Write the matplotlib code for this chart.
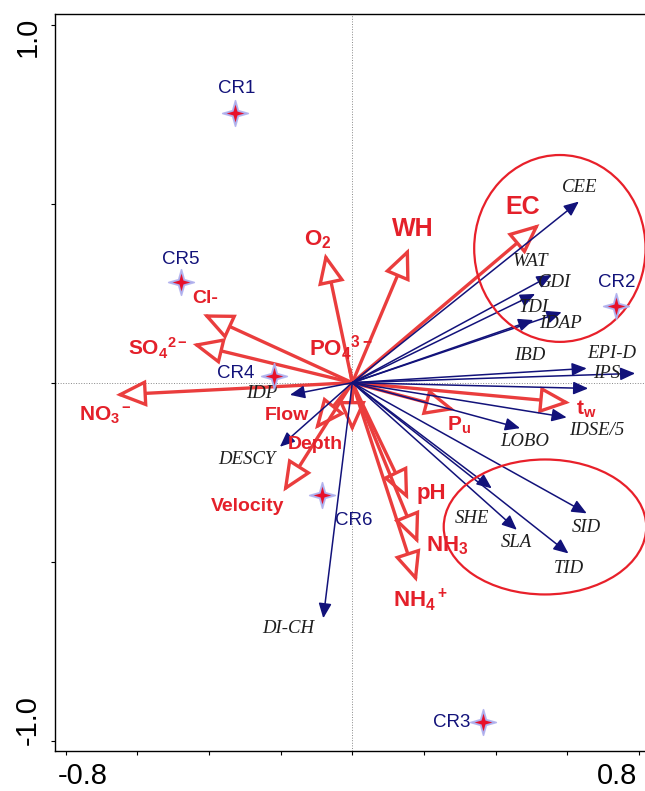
import numpy as np
import matplotlib
matplotlib.use('Agg')
import matplotlib.pyplot as plt
from matplotlib.patches import FancyArrowPatch, Ellipse
from matplotlib.path import Path

plt.rcParams['font.family'] = ['Liberation Sans', 'DejaVu Sans']
plt.rcParams['mathtext.fontset'] = 'custom'
plt.rcParams['mathtext.rm'] = 'Liberation Sans:bold'
plt.rcParams['mathtext.it'] = 'Liberation Sans:bold'
plt.rcParams['mathtext.bf'] = 'Liberation Sans:bold'

# environmental variables (red arrows)
env_names = ['EC', 'WH', 'O$_2$', 'Cl-', 'SO$_4$$^{2-}$', 'NO$_3$$^-$', 'PO$_4$$^{3-}$',
             'Flow', 'Depth', 'Velocity', 'pH', 'NH$_3$', 'NH$_4$$^+$', 'P$_u$', 't$_w$']
env_x = [0.522, 0.158, -0.076, -0.416, -0.445, -0.659, -0.006,
         -0.104, 0.000, -0.192, 0.156, 0.184, 0.180, 0.286, 0.607]
env_y = [0.443, 0.375, 0.361, 0.191, 0.108, -0.034, 0.035,
         -0.130, -0.137, -0.304, -0.326, -0.449, -0.556, -0.076, -0.056]

# species / indices (blue arrows)
sp_names = ['CEE', 'WAT', 'GDI', 'TDI', 'IDAP', 'IBD', 'EPI-D', 'IPS',
            'IDSE/5', 'LOBO', 'SHE', 'SLA', 'SID', 'TID', 'IDP', 'DESCY', 'DI-CH']
sp_x = [0.632, 0.556, 0.584, 0.510, 0.505, 0.654, 0.789, 0.658,
        0.598, 0.468, 0.389, 0.459, 0.654, 0.603, -0.174, -0.202, -0.081]
sp_y = [0.506, 0.301, 0.197, 0.248, 0.175, 0.040, 0.026, -0.016,
        -0.097, -0.127, -0.295, -0.411, -0.365, -0.477, -0.034, -0.179, -0.658]

# sampling sites
site_names = ['CR1', 'CR2', 'CR3', 'CR4', 'CR5', 'CR6']
site_x = [-0.327, 0.736, 0.364, -0.218, -0.479, -0.085]
site_y = [0.753, 0.215, -0.949, 0.020, 0.282, -0.314]

# label placement (pixels from arrow tip / marker)
env_off = [(-17, 17), (4, 19), (-7, 14), (2, 16), (-35, -4), (-11, -20), (-9, 22),
           (-28, 14), (-37, -13), (-36, -15), (23, 6), (29, -2), (4, -18), (4, -15), (16, -7)]
env_fs = [18, 18, 16, 14, 15, 15, 16, 14, 14, 14, 16, 16, 16, 15, 15]
sp_off = [(1, 14), (-21, 13), (-7, 30), (-1, -14), (27, -3), (-57, 13), (-23, 20), (18, 15),
          (30, -13), (5, -13), (-20, -30), (0, -13), (0, -14), (0, -15), (-28, 1), (-33, -13), (-35, -10)]
site_off = [(2, 25), (1, 23), (-31, 0), (-38, 2), (0, 22), (32, -25)]

RED = '#ea3d3d'
RED_TXT = '#e4202a'
NAVY = '#12127a'

fig = plt.figure(figsize=(6.45, 7.91), dpi=100)
ax = fig.add_axes([55 / 645, 40 / 791, 605 / 645, 737 / 791])
ax.set_xlim(-0.8293, 0.8583)
ax.set_ylim(-1.0288, 1.0299)

ax.axhline(0, color='#888888', lw=0.7, ls=':', zorder=1)
ax.axvline(0, color='#888888', lw=0.7, ls=':', zorder=1)

# red env arrows
for i, name in enumerate(env_names):
    if np.hypot(env_x[i], env_y[i]) < 0.06:
        ax.plot([0, env_x[i]], [0, env_y[i]], color=RED, lw=2.5, zorder=2)
    else:
        arr = FancyArrowPatch((0, 0), (env_x[i], env_y[i]),
                              arrowstyle='-|>,head_length=0.9,head_width=0.4',
                              mutation_scale=20, lw=2.4, ec=RED, fc='white',
                              shrinkA=0, shrinkB=0, zorder=2, joinstyle='miter')
        ax.add_patch(arr)
    ax.annotate(name, (env_x[i], env_y[i]), xytext=env_off[i], textcoords='offset pixels',
                ha='center', va='center', color=RED_TXT, fontsize=env_fs[i],
                fontweight='bold', zorder=5)

# blue species arrows
for i, name in enumerate(sp_names):
    arr = FancyArrowPatch((0, 0), (sp_x[i], sp_y[i]),
                          arrowstyle='-|>,head_length=0.6,head_width=0.26',
                          mutation_scale=15, lw=1.1, ec=NAVY, fc=NAVY,
                          shrinkA=0, shrinkB=0, zorder=3)
    ax.add_patch(arr)
    ax.annotate(name, (sp_x[i], sp_y[i]), xytext=sp_off[i], textcoords='offset pixels',
                ha='center', va='center', color='#1e1e1e', fontsize=13.5,
                family='Liberation Serif', style='italic', zorder=5)

# ellipses
ax.add_patch(Ellipse((0.579, 0.375), 0.478, 0.522, fill=False, ec='#e8202a', lw=1.6, zorder=4))
ax.add_patch(Ellipse((0.5375, -0.403), 0.565, 0.377, fill=False, ec='#e8202a', lw=1.6, zorder=4))

# sites: 4-point stars
r = 0.22
star = Path([(0, 1), (r, r), (1, 0), (r, -r), (0, -1), (-r, -r), (-1, 0), (-r, r), (0, 1)],
            [Path.MOVETO] + [Path.LINETO] * 7 + [Path.CLOSEPOLY])
ax.scatter(site_x, site_y, marker=star, s=340, c='#9a9ae0', edgecolors='#b0b0ee',
           linewidths=1.2, alpha=0.9, zorder=6)
ax.scatter(site_x, site_y, marker=star, s=160, c='#e8102a', linewidths=0, zorder=7)
for i, name in enumerate(site_names):
    ax.annotate(name, (site_x[i], site_y[i]), xytext=site_off[i], textcoords='offset pixels',
                ha='center', va='center', color=NAVY, fontsize=13.5, zorder=8)

# axes styling
ax.spines['right'].set_visible(False)
for s in ['left', 'bottom', 'top']:
    ax.spines[s].set_linewidth(1.0)
ax.set_xticks(np.arange(-0.8, 0.81, 0.2))
ax.set_yticks([-1.0, -0.5, 0, 0.5, 1.0])
ax.set_xticklabels([])
ax.set_yticklabels([])
ax.tick_params(direction='out', length=3, width=0.8)

ax.annotate('-0.8', (-0.8, 0), xycoords=('data', 'axes fraction'), xytext=(17, -25),
            textcoords='offset pixels', ha='center', va='center', fontsize=21)
ax.annotate('0.8', (0.8, 0), xycoords=('data', 'axes fraction'), xytext=(-22, -25),
            textcoords='offset pixels', ha='center', va='center', fontsize=21,
            annotation_clip=False)
ax.annotate('1.0', (0, 1.0), xycoords=('axes fraction', 'data'), xytext=(-27, -12),
            textcoords='offset pixels', ha='center', va='center', fontsize=21, rotation=90)
ax.annotate('-1.0', (0, -1.0), xycoords=('axes fraction', 'data'), xytext=(-27, 21),
            textcoords='offset pixels', ha='center', va='center', fontsize=21, rotation=90)

fig.savefig('out.png', dpi=100)
